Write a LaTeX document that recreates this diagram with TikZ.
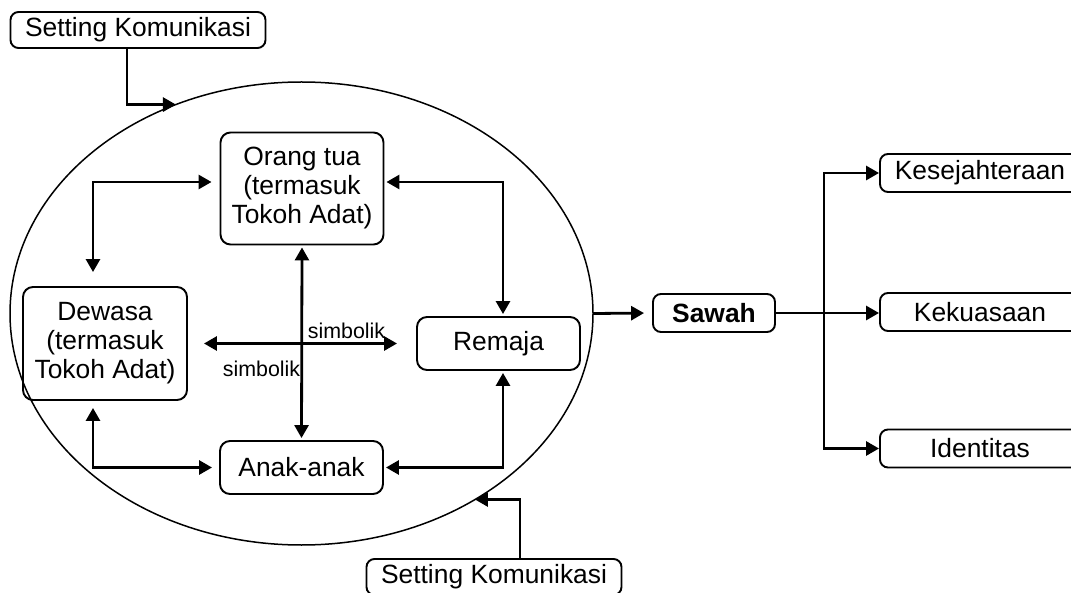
\documentclass[tikz,border=0pt]{standalone}
\usepackage{fontspec}
\setmainfont{Liberation Sans}
\usetikzlibrary{arrows.meta,shapes.geometric}
\tikzset{
    actor/.style = {
        draw,
        line width=0.95pt,
        rounded corners=5pt,
        align=center,
        inner sep=0pt,
        font=\fontsize{13.2}{14.5}\selectfont,
        },
    outcome/.style = {
        actor,
        rounded corners=4pt,
        minimum width=100pt,
        minimum height=19pt,
        },
    setting/.style = {
        actor,
        rounded corners=4pt,
        minimum width=127.5pt,
        minimum height=18pt,
        },
    label small/.style = {
        inner sep=0pt,
        font=\fontsize{10.7}{12}\selectfont,
        },
    link/.style = {
        line width=1.4pt,
        -{Triangle[length=6.5pt,width=7pt]},
        },
    both/.style = {
        link,
        {Triangle[length=6.5pt,width=7pt]}-{Triangle[length=6.5pt,width=7pt]},
        shorten <=1pt,
        shorten >=1pt,
        },
}

\begin{document}
\begin{tikzpicture}[x=0.5pt, y=-0.5pt]
    \useasboundingbox (0,0) rectangle (1071,593);

    % the circle of actors
    \node [draw, ellipse, line width=0.75pt, inner sep=0pt, outer sep=0pt,
           minimum width=291.5pt, minimum height=231.5pt] (scene) at (301.5,313.5) {};

    \node [actor, minimum width=81.5pt, minimum height=56pt] (orang) at (302,188.5)
        {Orang tua\\(termasuk\\Tokoh Adat)};
    \node [actor, minimum width=82pt, minimum height=56.5pt] (dewasa) at (105,343.5)
        {Dewasa\\(termasuk\\Tokoh Adat)};
    \node [actor, minimum width=81.5pt, minimum height=26.5pt] (remaja) at (498.5,343.5) {Remaja};
    \node [actor, minimum width=81.5pt, minimum height=26.5pt] (anak) at (301.5,467.5) {Anak-anak};

    \node [label small] (simb1) at (346.5,331) {simbolik};
    \node [label small] (simb2) at (261.5,369) {simbolik};

    % settings
    \node [setting] (set1) at (138,30) {Setting Komunikasi};
    \node [setting] (set2) at (494,577) {Setting Komunikasi};

    % sawah and what it gives
    \node [actor, rounded corners=4pt, minimum width=61pt, minimum height=19pt,
           font=\fontsize{13.2}{14.5}\selectfont\bfseries] (sawah) at (714,313) {Sawah};
    \node [outcome] (kes) at (980,173) {Kesejahteraan};
    \node [outcome] (kek) at (980,312) {Kekuasaan};
    \node [outcome] (ident) at (980,448.5) {Identitas};

    \draw[link] (set1.south) ++(-11,0) |- (scene.121);
    \draw[link] (set2.north) ++(26,0) |- (scene.-47);

    \draw[both, shorten <=4pt, shorten >=7pt] ([yshift=3.25pt]orang.west) -| ([xshift=-6pt]dewasa.north);
    \draw[both] ([yshift=3.25pt]orang.east) -| ([xshift=2.25pt]remaja.north);
    \draw[both, shorten <=3.5pt, shorten >=3.5pt] ([xshift=-6pt]dewasa.south) |- (anak.west);
    \draw[both] (anak.east) -| ([xshift=2.25pt]remaja.south);
    \draw[both] (orang.south) -- (anak.north);
    \draw[both, shorten <=8pt, shorten >=9.5pt] (dewasa.east) -- (remaja.west);

    \draw[link, shorten >=4pt] (scene.east) -- (sawah.west);
    \draw[link] (sawah.east) -- (sawah.east -| kek.west);
    \draw[link] (sawah.east) ++(48,0) |- (kes.west);
    \draw[link] (sawah.east) ++(48,0) |- (ident.west);
\end{tikzpicture}
\end{document}
